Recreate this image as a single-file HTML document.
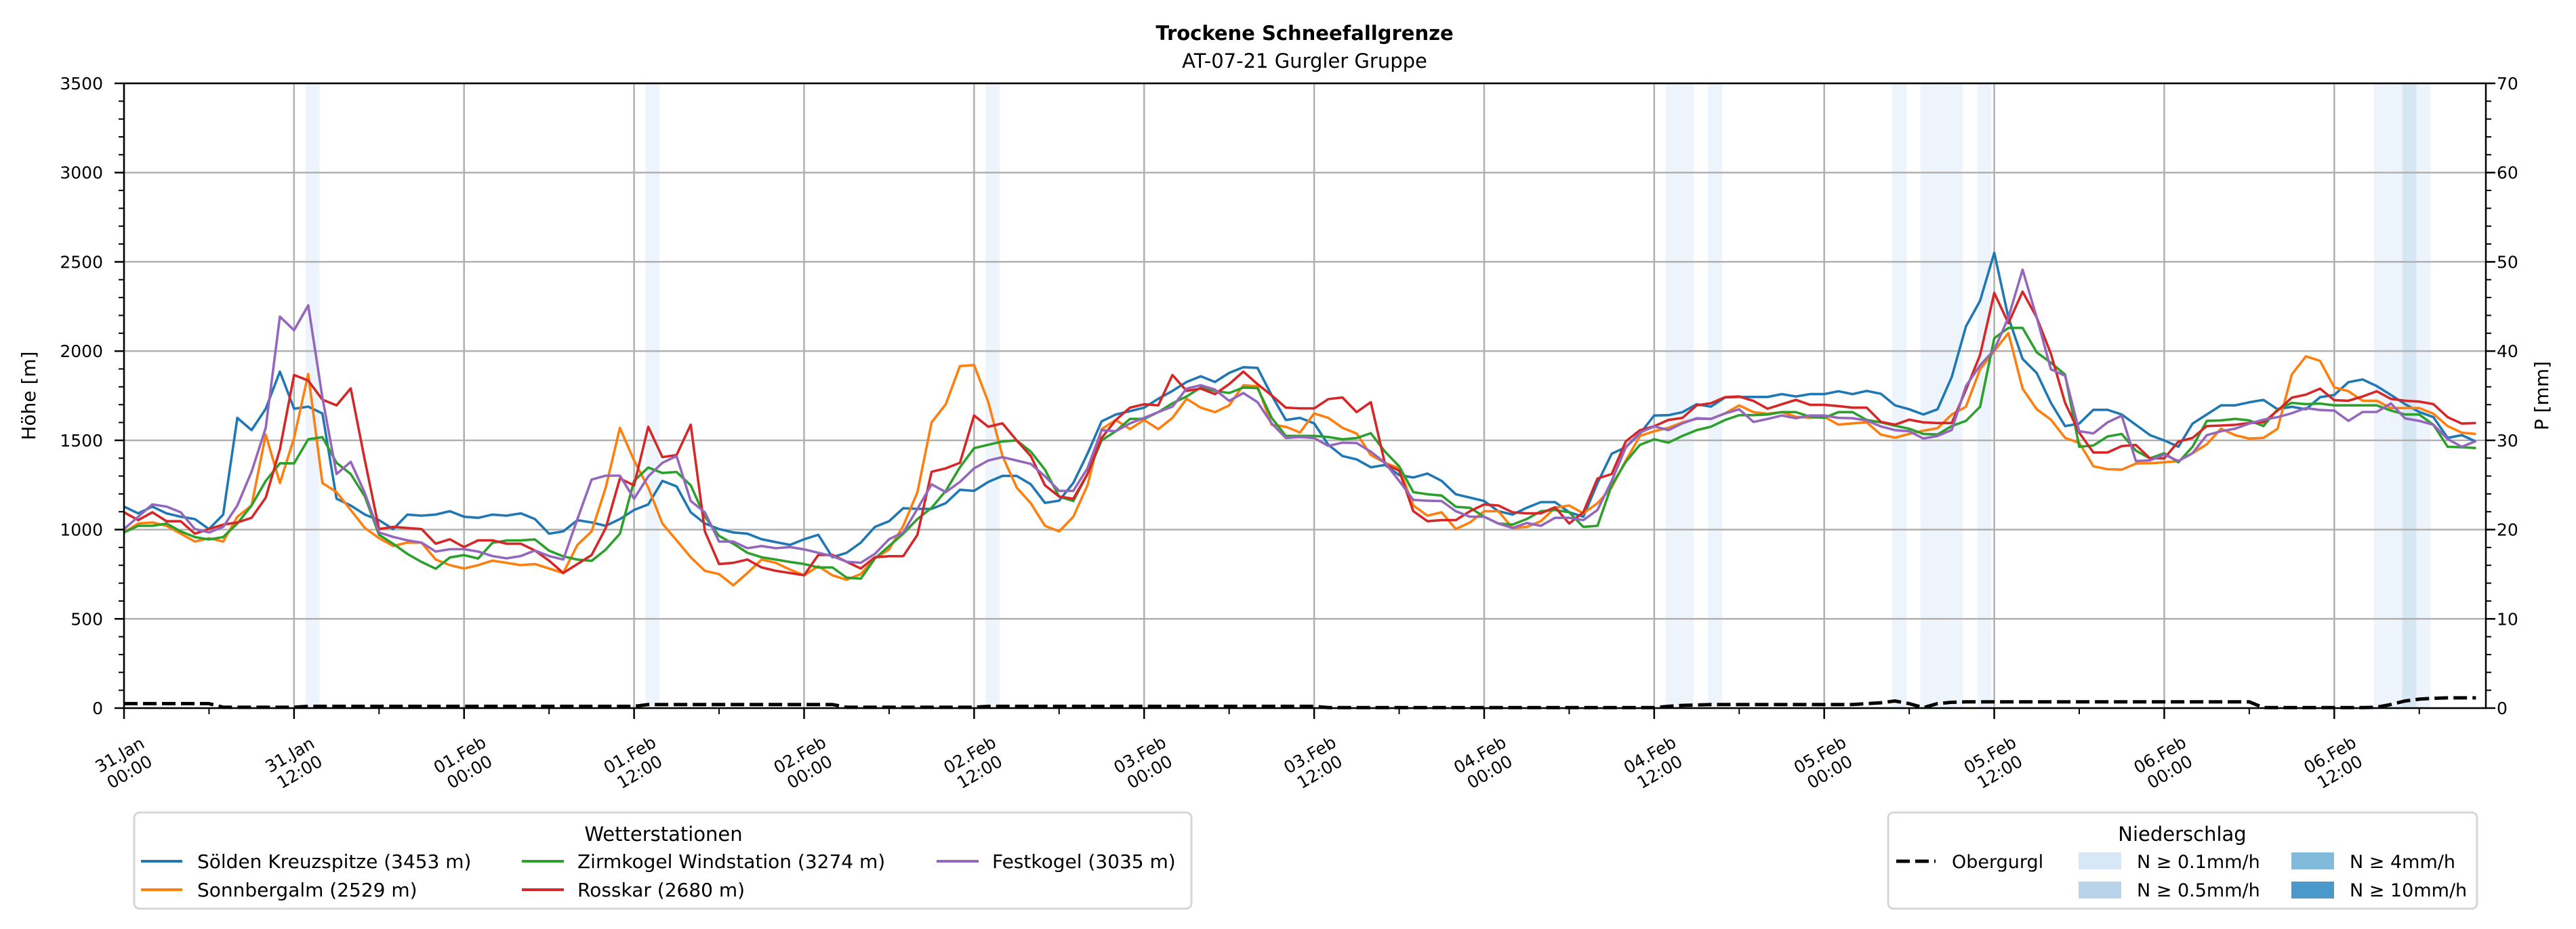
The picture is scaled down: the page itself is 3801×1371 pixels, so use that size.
<!DOCTYPE html>
<html><head><meta charset="utf-8">
<style>
html,body{margin:0;padding:0;background:#fff;}
svg{display:block;font-family:"DejaVu Sans","Liberation Sans",sans-serif;}
</style></head>
<body>
<svg id="chart" width="3801" height="1371" viewBox="0 0 3801 1371" xmlns="http://www.w3.org/2000/svg">
<rect x="0" y="0" width="3801" height="1371" fill="#fff"/>
<text x="1925" y="59" font-size="29" font-weight="bold" text-anchor="middle">Trockene Schneefallgrenze</text>
<text x="1925" y="100" font-size="29" text-anchor="middle">AT-07-21 Gurgler Gruppe</text>
<g id="bands"></g>
<g id="grid"></g>
<g id="series"></g>
<g id="axes"></g>
<text transform="translate(52,584) rotate(-90)" font-size="28" text-anchor="middle">Höhe [m]</text>
<text transform="translate(3760,584) rotate(-90)" font-size="28" text-anchor="middle">P [mm]</text>

<g>
<rect x="198" y="1199" width="1560" height="142" rx="8" fill="#fff" stroke="#d6d6d6" stroke-width="3"/>
<text x="979" y="1241" font-size="29" text-anchor="middle">Wetterstationen</text>
<g><line x1="208" y1="1271" x2="269" y2="1271" stroke="#1f77b4" stroke-width="4"/><text x="291" y="1281" font-size="28">Sölden Kreuzspitze (3453 m)</text></g>
<g><line x1="208" y1="1313" x2="269" y2="1313" stroke="#ff7f0e" stroke-width="4"/><text x="291" y="1323" font-size="28">Sonnbergalm (2529 m)</text></g>
<g><line x1="770" y1="1271" x2="832" y2="1271" stroke="#2ca02c" stroke-width="4"/><text x="852" y="1281" font-size="28">Zirmkogel Windstation (3274 m)</text></g>
<g><line x1="770" y1="1313" x2="832" y2="1313" stroke="#d62728" stroke-width="4"/><text x="852" y="1323" font-size="28">Rosskar (2680 m)</text></g>
<g><line x1="1382" y1="1271" x2="1444" y2="1271" stroke="#9467bd" stroke-width="4"/><text x="1464" y="1281" font-size="28">Festkogel (3035 m)</text></g>
</g>

<g>
<rect x="2786" y="1199" width="869" height="142" rx="8" fill="#fff" stroke="#d6d6d6" stroke-width="3"/>
<text x="3220" y="1241" font-size="29" text-anchor="middle">Niederschlag</text>
<g><line x1="2798" y1="1271" x2="2856" y2="1271" stroke="#000" stroke-width="5" stroke-dasharray="20,8"/><text x="2880" y="1281" font-size="27">Obergurgl</text></g>
<g><rect x="3067" y="1258" width="63" height="25" fill="#d8e7f5"/><text x="3153" y="1281" font-size="27">N ≥ 0.1mm/h</text></g>
<g><rect x="3067" y="1301" width="63" height="25" fill="#b9d4ea"/><text x="3153" y="1323" font-size="27">N ≥ 0.5mm/h</text></g>
<g><rect x="3381" y="1258" width="63" height="25" fill="#82badb"/><text x="3467" y="1281" font-size="27">N ≥ 4mm/h</text></g>
<g><rect x="3381" y="1301" width="63" height="25" fill="#4b98ca"/><text x="3467" y="1323" font-size="27">N ≥ 10mm/h</text></g>
</g>
</svg>
<script>
// ---- data ----
const soelden = [1129,1091,1129,1091,1072,1059,1003,1084,1626,1557,1677,1885,1677,1689,1651,1173,1135,1084,1053,1003,1084,1078,1084,1103,1072,1066,1084,1078,1091,1059,977,990,1053,1040,1021,1059,1110,1141,1273,1242,1097,1034,
1003,984,977,946,930,914,946,971,845,870,927,1015,1047,1120,1116,1116,1148,1223,1217,1267,1301,1301,1254,1150,1162,1261,1425,1607,1645,1664,1683,1733,1777,1827,1859,1827,1878,1910,1906,1752,1614,1626,
1595,1475,1412,1393,1349,1362,1305,1292,1314,1273,1198,1179,1160,1103,1084,1122,1154,1154,1097,1072,1261,1425,1462,1538,1639,1641,1658,1702,1689,1740,1743,1743,1743,1759,1746,1759,1759,1775,1759,1777,1761,1696,
1674,1645,1674,1855,2138,2282,2551,2188,1956,1877,1710,1580,1594,1671,1671,1645,1587,1529,1500,1464,1594,1645,1696,1696,1713,1727,1674,1688,1674,1742,1754,1826,1841,1804,1754,1703,1659,1630,1514,1529,1493];
const sonnbergalm = [984,1034,1040,1021,977,933,952,933,1072,1135,1532,1261,1513,1872,1261,1210,1110,1009,952,908,927,927,832,801,782,801,826,814,801,807,782,757,914,990,1236,1570,1387,1236,1034,940,845,769,
751,688,757,832,814,776,744,795,744,719,751,839,889,1021,1210,1601,1702,1916,1922,1714,1412,1236,1147,1021,990,1072,1248,1563,1614,1563,1614,1563,1626,1733,1683,1658,1696,1809,1803,1588,1576,1544,
1651,1626,1570,1538,1418,1374,1343,1135,1078,1097,1003,1040,1103,1103,1009,1015,1047,1122,1135,1091,1148,1236,1387,1525,1551,1570,1601,1620,1620,1651,1696,1658,1649,1658,1632,1626,1632,1588,1595,1601,1532,1515,
1536,1554,1568,1645,1688,1898,2000,2101,1790,1674,1616,1514,1486,1355,1338,1336,1370,1372,1377,1384,1428,1478,1565,1529,1510,1514,1565,1869,1971,1945,1797,1775,1722,1722,1681,1681,1681,1649,1580,1543,1536];
const zirmkogel = [984,1021,1021,1034,990,958,945,958,1034,1135,1273,1371,1371,1506,1518,1374,1311,1185,971,920,864,819,781,844,857,838,926,939,939,945,882,850,832,825,888,977,1273,1348,1317,1323,1248,1072,
965,921,870,845,832,819,807,788,788,731,725,838,908,977,1059,1122,1217,1349,1456,1475,1494,1500,1437,1336,1185,1160,1311,1500,1551,1620,1620,1658,1708,1746,1796,1777,1765,1796,1793,1626,1525,1525,
1525,1519,1506,1513,1540,1437,1355,1210,1198,1191,1128,1122,1072,1034,1028,1059,1103,1110,1097,1015,1021,1248,1380,1475,1506,1487,1525,1557,1576,1614,1641,1641,1645,1658,1658,1632,1626,1658,1658,1614,1601,1582,
1565,1536,1533,1580,1609,1688,2072,2130,2130,1993,1935,1869,1464,1471,1522,1536,1442,1399,1428,1377,1464,1609,1612,1620,1612,1580,1674,1710,1703,1706,1696,1696,1696,1696,1667,1645,1645,1587,1464,1461,1457];
const rosskar = [1097,1053,1097,1047,1047,977,1003,1028,1040,1066,1179,1450,1866,1835,1728,1696,1791,1387,1003,1015,1009,1003,921,946,902,940,940,921,921,883,826,757,807,857,1009,1286,1248,1576,1406,1418,1588,990,
807,814,832,788,769,757,744,858,858,820,782,845,851,851,971,1324,1343,1374,1639,1576,1595,1500,1412,1248,1185,1173,1311,1513,1614,1683,1702,1696,1866,1777,1790,1759,1815,1885,1815,1752,1683,1679,
1679,1731,1740,1658,1714,1368,1330,1103,1047,1053,1053,1103,1141,1135,1097,1091,1091,1125,1034,1097,1286,1311,1494,1557,1579,1614,1626,1696,1708,1742,1746,1721,1677,1702,1727,1699,1699,1692,1683,1683,1604,1588,
1616,1601,1597,1597,1783,1978,2326,2156,2333,2188,1985,1710,1543,1432,1432,1468,1474,1399,1399,1493,1514,1580,1583,1587,1597,1601,1667,1739,1756,1790,1725,1722,1746,1775,1732,1722,1717,1703,1630,1594,1597];
const festkogel = [1003,1072,1141,1129,1097,1003,984,1015,1135,1324,1570,2193,2117,2256,1740,1311,1380,1204,984,959,940,927,877,890,890,877,852,839,852,883,852,832,1059,1280,1302,1302,1173,1298,1374,1412,1160,1097,
933,933,896,908,896,902,889,870,851,820,814,864,946,984,1116,1254,1210,1267,1343,1387,1406,1387,1368,1299,1217,1217,1343,1557,1551,1595,1626,1658,1689,1790,1809,1784,1721,1765,1714,1595,1513,1519,
1513,1469,1487,1485,1437,1374,1273,1166,1162,1160,1103,1072,1072,1034,1009,1037,1021,1066,1066,1053,1110,1273,1462,1544,1578,1557,1595,1624,1620,1651,1674,1603,1620,1639,1624,1639,1639,1626,1624,1611,1578,1557,
1551,1510,1525,1558,1804,1920,2007,2188,2456,2188,1898,1862,1551,1539,1601,1638,1384,1388,1420,1384,1428,1529,1551,1565,1594,1616,1630,1652,1681,1670,1667,1609,1659,1659,1707,1623,1609,1587,1507,1464,1496];
const obergurgl = [0.5,0.5,0.5,0.5,0.5,0.5,0.5,0.1,0.1,0.1,0.1,0.1,0.1,
0.2,0.2,0.2,0.2,0.2,0.2,0.2,0.2,0.2,0.2,0.2,0.2,0.2,0.2,0.2,0.2,0.2,0.2,0.2,0.2,0.2,0.2,0.2,0.2,
0.4,0.4,0.4,0.4,0.4,0.4,0.4,0.4,0.4,0.4,0.4,0.4,0.4,0.4,
0.1,0.1,0.1,0.1,0.1,0.1,0.1,0.1,0.1,0.1,
0.2,0.2,0.2,0.2,0.2,0.2,0.2,0.2,0.2,0.2,0.2,0.2,0.2,0.2,0.2,0.2,0.2,0.2,0.2,0.2,0.2,0.2,0.2,0.2,
0.05,0.05,0.05,0.05,0.05,0.05,0.05,0.05,0.05,0.05,0.05,0.05,0.05,0.05,0.05,0.05,0.05,0.05,0.05,0.05,0.05,0.05,0.05,0.05,
0.2,0.3,0.35,0.4,0.4,0.4,0.4,0.4,0.4,0.4,0.4,0.4,0.4,0.4,0.5,0.6,0.8,0.5,0.05,0.5,0.65,
0.7,0.7,0.7,0.7,0.7,0.7,0.7,0.7,0.7,0.7,0.7,0.7,0.7,0.7,0.7,0.7,0.7,0.7,0.7,0.7,0.7,
0.05,0.05,0.05,0.05,0.05,0.05,0.05,0.05,0.1,0.4,0.8,1.0,1.1,1.15,1.15,1.15];
const precipHours = [13,37,61,109,110,112,125,127,128,129,131,159,160,161,162];
const precipLevels = [1,1,1,1,1,1,1,1,1,1,1,1,1,2,1];
const xTickDays = ["31.Jan","31.Jan","01.Feb","01.Feb","02.Feb","02.Feb","03.Feb","03.Feb","04.Feb","04.Feb","05.Feb","05.Feb","06.Feb","06.Feb"];
const xTickTimes = ["00:00","12:00","00:00","12:00","00:00","12:00","00:00","12:00","00:00","12:00","00:00","12:00","00:00","12:00"];
const yTicks = [0,500,1000,1500,2000,2500,3000,3500];
const y2Ticks = [0,10,20,30,40,50,60,70];

// ---- scales ----
const L=183,R=3668,T=123,B=1045,HMAX=166.7,YMAX=3500,PMAX=70;
const sx=h=>L+h/HMAX*(R-L);
const sy=v=>B-v/YMAX*(B-T);
const sy2=v=>B-v/PMAX*(B-T);
const NS="http://www.w3.org/2000/svg";
function mk(tag,parent,attrs){const e=document.createElementNS(NS,tag);for(const k in attrs)e.setAttribute(k,attrs[k]);parent.appendChild(e);return e;}

// bands
const gb=document.getElementById('bands');
const bandColors={1:"#eef4fb",2:"#d6e6f3"};
precipHours.forEach((h,i)=>{
  const r=mk('rect',gb,{x:sx(h-0.2),y:T,width:sx(h+0.8)-sx(h-0.2),height:B-T,fill:bandColors[precipLevels[i]]});
  
  
});

// grid
const gg=document.getElementById('grid');
yTicks.forEach(v=>{const l=mk('line',gg,{x1:L,x2:R,y1:sy(v),y2:sy(v),stroke:"#b0b0b0","stroke-width":2.5});
  
  });
xTickDays.forEach((d,i)=>{const x=sx(i*12);const l=mk('line',gg,{x1:x,x2:x,y1:T,y2:B,stroke:"#b0b0b0","stroke-width":2.5});
  
  });

// series
const gs=document.getElementById('series');
const series=[[soelden,"#1f77b4","series-soelden"],[sonnbergalm,"#ff7f0e","series-sonnbergalm"],[zirmkogel,"#2ca02c","series-zirmkogel"],[rosskar,"#d62728","series-rosskar"],[festkogel,"#9467bd","series-festkogel"]];
series.forEach(s=>{
  const pts=s[0].map((v,i)=>sx(i).toFixed(1)+","+sy(v).toFixed(1)).join(" ");
  const p=mk('polyline',gs,{points:pts,fill:"none",stroke:s[1],"stroke-width":3.6,"stroke-linejoin":"round"});
  
  
});
const pp=obergurgl.map((v,i)=>sx(i).toFixed(1)+","+sy2(v).toFixed(1)).join(" ");
const pl=mk('polyline',gs,{points:pp,fill:"none",stroke:"#000","stroke-width":5,"stroke-dasharray":"20,8"});



// axes
const ga=document.getElementById('axes');
const frame=mk('rect',ga,{x:L,y:T,width:R-L,height:B-T,fill:"none",stroke:"#000","stroke-width":2.5});


yTicks.forEach(v=>{
  mk('line',ga,{x1:L-14,x2:L,y1:sy(v),y2:sy(v),stroke:"#000","stroke-width":2.5});
  const t=mk('text',ga,{x:L-31,y:sy(v)+9,"font-size":25,"text-anchor":"end"});
  t.textContent=v;
  
  
});
for(let v=100;v<YMAX;v+=100){if(v%500)mk('line',ga,{x1:L-8,x2:L,y1:sy(v),y2:sy(v),stroke:"#000","stroke-width":2});}
y2Ticks.forEach(v=>{
  mk('line',ga,{x1:R,x2:R+14,y1:sy2(v),y2:sy2(v),stroke:"#000","stroke-width":2.5});
  const t=mk('text',ga,{x:R+16,y:sy2(v)+9,"font-size":25});
  t.textContent=v;
  
  
});
for(let v=2;v<PMAX;v+=2){if(v%10)mk('line',ga,{x1:R,x2:R+8,y1:sy2(v),y2:sy2(v),stroke:"#000","stroke-width":2});}
xTickDays.forEach((d,i)=>{
  const x=sx(i*12);
  mk('line',ga,{x1:x,x2:x,y1:B,y2:B+16,stroke:"#000","stroke-width":2.5});
  mk('line',ga,{x1:sx(i*12+6),x2:sx(i*12+6),y1:B,y2:B+9,stroke:"#000","stroke-width":2});
  const g=mk('g',ga,{transform:`translate(${x.toFixed(1)},1125) rotate(-30)`});
  
  
  const t1=mk('text',g,{x:0,y:-4,"font-size":25,"text-anchor":"middle"});t1.textContent=d;
  const t2=mk('text',g,{x:0,y:25,"font-size":25,"text-anchor":"middle"});t2.textContent=xTickTimes[i];
});
</script>
</body></html>
